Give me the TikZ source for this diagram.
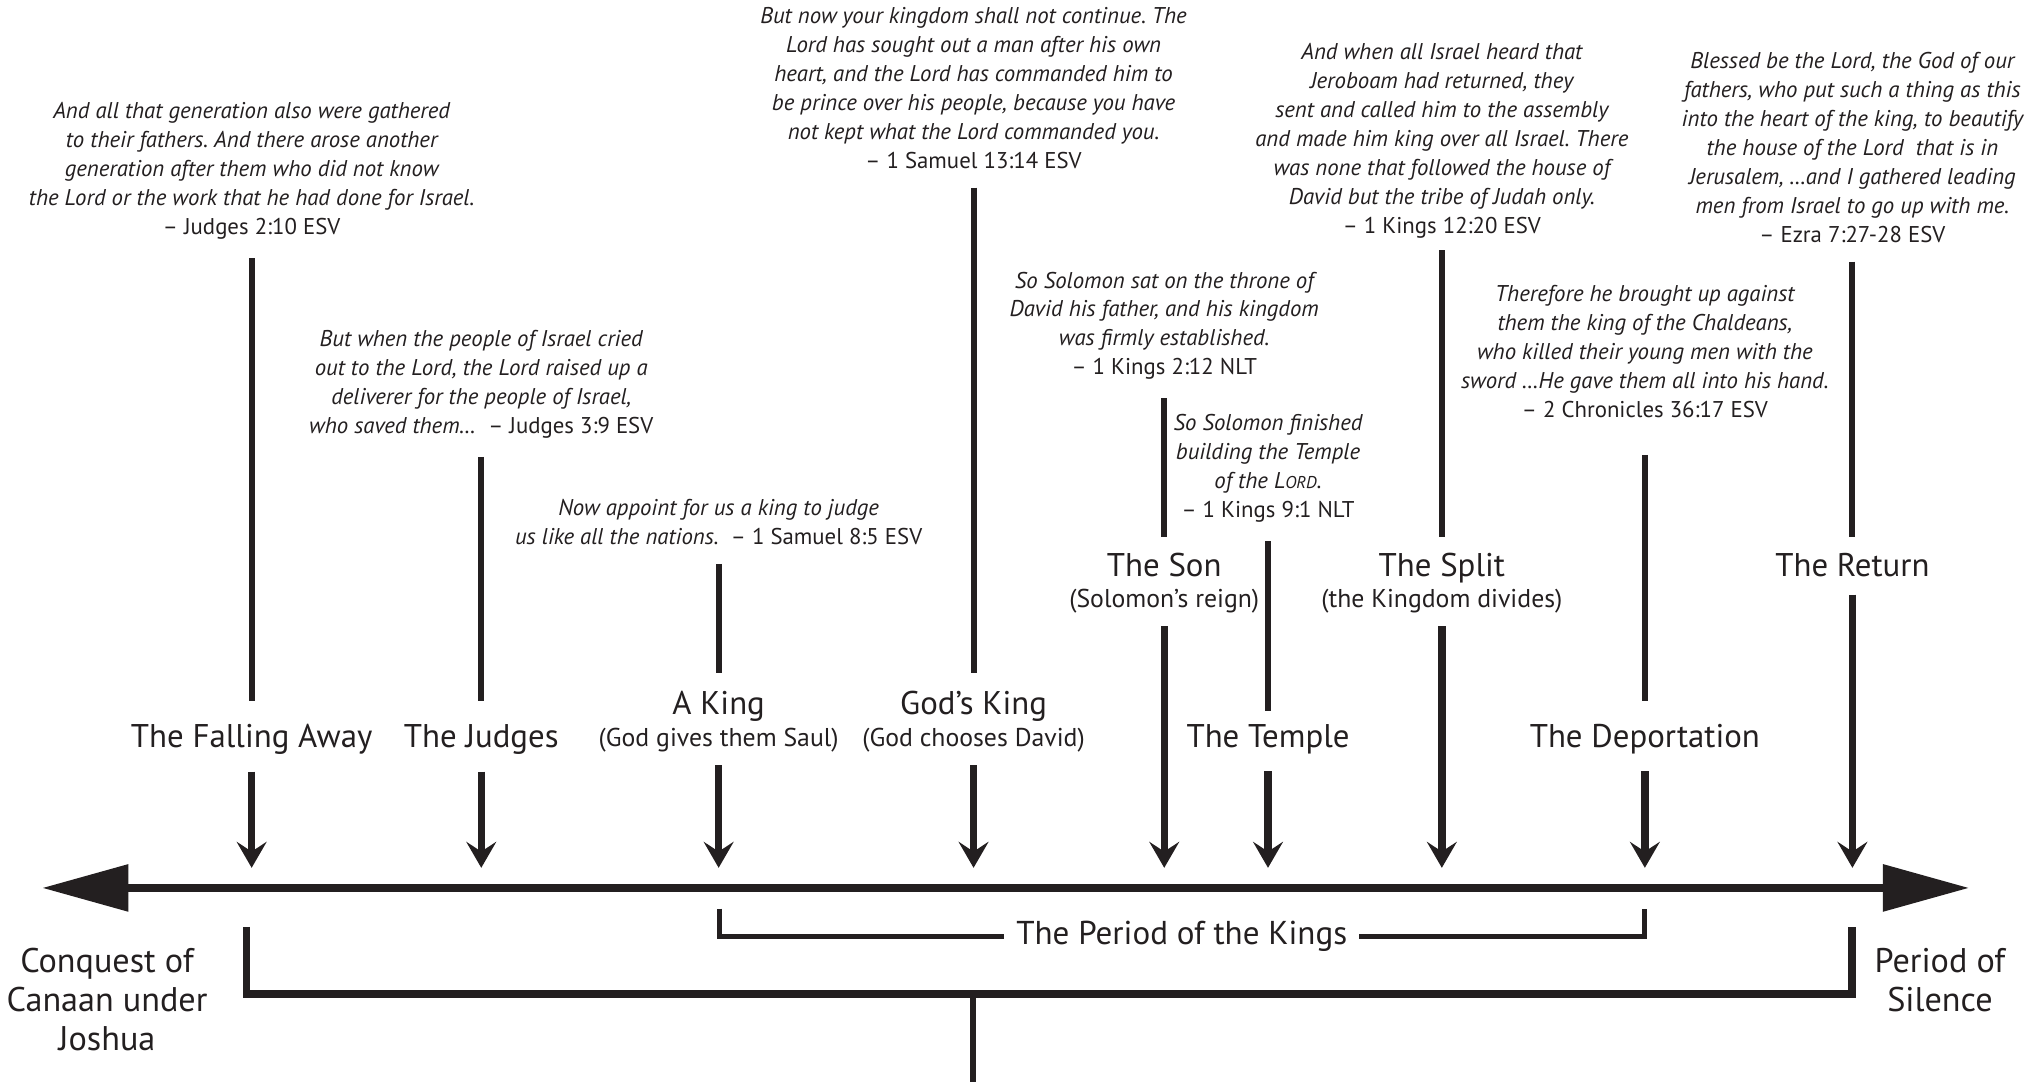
\documentclass[tikz,border=0pt]{standalone}
\usepackage{fontspec}
\setmainfont{PT Sans}
\usetikzlibrary{arrows.meta}
\definecolor{ink}{HTML}{231F20}
\frenchspacing

\tikzset{
  verse/.style={anchor=base, align=center, inner sep=2pt, text=ink,
    font=\fontsize{10}{12.7}\selectfont\itshape},
  event/.style={anchor=base, inner sep=2pt, text=ink,
    font=\fontsize{14.4}{16}\selectfont},
  subline/.style={anchor=base, inner sep=0pt, text=ink,
    font=\fontsize{11.3}{13}\selectfont},
  endlabel/.style={anchor=base, align=center, text=ink,
    font=\fontsize{15}{17.1}\selectfont},
  stem/.style={draw=ink, line width=2.6pt, shorten <=6pt, shorten >=5pt},
  drop/.style={draw=ink, line width=3.2pt, shorten <=5.5pt,
    -{Stealth[length=0.40cm,width=0.46cm,inset=0.15cm]}},
  bracketline/.style={draw=ink, line width=3.4pt},
}

\begin{document}
\begin{tikzpicture}
    \useasboundingbox (0,0) rectangle (31.36,16.68);

    % time line
    \coordinate (past) at (0.65,2.99);
    \coordinate (future) at (30.36,2.99);
    \coordinate (tip) at (0,3.30);
    \draw[ink,line width=3.5pt,{Triangle[length=1.33cm,width=0.70cm]}-{Triangle[length=1.33cm,width=0.70cm]}] (past) -- (future);

    % verses (placed by their last line)
    \node[verse] (fallQ) at (3.88,13.06) {And all that generation also were gathered\\
      to their fathers. And there arose another\\
      generation after them who did not know\\
      the Lord or the work that he had done for Israel.\\
      {\upshape – Judges 2:10 ESV}};
    \node[verse] (judgesQ) at (7.42,10.00) {But when the people of Israel cried\\
      out to the Lord, the Lord raised up a\\
      deliverer for the people of Israel,\\
      who saved them\ldots\ \ {\upshape – Judges 3:9 ESV}};
    \node[verse] (akingQ) at (11.08,8.28) {Now appoint for us a king to judge\\
      us like all the nations.\ \ {\upshape – 1 Samuel 8:5 ESV}};
    \node[verse] (godsQ) at (15.01,14.08) {But now your kingdom shall not continue. The\\
      Lord has sought out a man after his own\\
      heart, and the Lord has commanded him to\\
      be prince over his people, because you have\\
      not kept what the Lord commanded you.\\
      {\upshape – 1 Samuel 13:14 ESV}};
    \node[verse] (sonQ) at (17.95,10.90) {So Solomon sat on the throne of\\
      David his father, and his kingdom\\
      was firmly established.\\
      {\upshape – 1 Kings 2:12 NLT}};
    \node[verse] (templeQ) at (19.55,8.70) {So Solomon finished\\
      building the Temple\\
      of the L{\fontsize{7.5}{9}\selectfont ORD}.\\
      {\upshape – 1 Kings 9:1 NLT}};
    \node[verse] (splitQ) at (22.23,13.08) {And when all Israel heard that\\
      Jeroboam had returned, they\\
      sent and called him to the assembly\\
      and made him king over all Israel. There\\
      was none that followed the house of\\
      David but the tribe of Judah only.\\
      {\upshape – 1 Kings 12:20 ESV}};
    \node[verse] (deportQ) at (25.36,10.24) {Therefore he brought up against\\
      them the king of the Chaldeans,\\
      who killed their young men with the\\
      sword \ldots He gave them all into his hand.\\
      {\upshape – 2 Chronicles 36:17 ESV}};
    \node[verse] (returnQ) at (28.56,12.94) {Blessed be the Lord, the God of our\\
      fathers, who put such a thing as this\\
      into the heart of the king, to beautify\\
      the house of the Lord\ \ that is in\\
      Jerusalem, \ldots and I gathered leading\\
      men from Israel to go up with me.\\
      {\upshape – Ezra 7:27-28 ESV}};

    % events
    \node[event] (fallL) at (3.88,5.16) {The Falling Away};
    \node[event] (judgesL) at (7.42,5.16) {The Judges};
    \node[event] (akingL) at (11.08,5.67) {A King};
    \node[subline] (akingS) at (11.08,5.17) {(God gives them Saul)};
    \node[event] (godsL) at (15.01,5.67) {God’s King};
    \node[subline] (godsS) at (15.01,5.17) {(God chooses David)};
    \node[event] (sonL) at (17.95,7.79) {The Son};
    \node[subline] (sonS) at (17.95,7.31) {(Solomon’s reign)};
    \node[event] (templeL) at (19.55,5.16) {The Temple};
    \node[event] (splitL) at (22.23,7.79) {The Split};
    \node[subline] (splitS) at (22.23,7.31) {(the Kingdom divides)};
    \node[event] (deportL) at (25.36,5.16) {The Deportation};
    \node[event] (returnL) at (28.56,7.79) {The Return};

    % verse to event
    \draw[stem,shorten >=8pt] (fallQ) -- (fallL);
    \draw[stem,shorten >=8pt] (judgesQ) -- (judgesL);
    \draw[stem,shorten >=5.5pt] (akingQ) -- (akingL);
    \draw[stem,shorten >=5.5pt] (godsQ) -- (godsL);
    \draw[stem] (sonQ) -- (sonL);
    \draw[stem,shorten >=3.5pt] (templeQ) -- (templeL);
    \draw[stem,shorten <=3pt] (splitQ) -- (splitL);
    \draw[stem,shorten <=14pt,shorten >=8pt] (deportQ) -- (deportL);
    \draw[stem] (returnQ) -- (returnL);

    % event to time line
    \draw[drop] (fallL) -- (fallL |- tip);
    \draw[drop] (judgesL) -- (judgesL |- tip);
    \draw[drop] (akingS) -- (akingS |- tip);
    \draw[drop] (godsS) -- (godsS |- tip);
    \draw[drop] (sonS) -- (sonS |- tip);
    \draw[drop] (templeL) -- (templeL |- tip);
    \draw[drop] (splitS) -- (splitS |- tip);
    \draw[drop] (deportL) -- (deportL |- tip);
    \draw[drop] (returnL) -- (returnL |- tip);

    % period of the kings
    \coordinate (kingsL) at (11.09,2.67);
    \coordinate (kingsR) at (25.36,2.67);
    \node[endlabel,anchor=center,fill=white,inner xsep=5pt,font=\fontsize{14.5}{16}\selectfont] (kings) at (18.22,2.24) {The Period of the Kings};
    \draw[ink,line width=2.2pt] (kingsL) |- (kings);
    \draw[ink,line width=2.2pt] (kings) -| (kingsR);

    % whole period
    \coordinate (ageL) at (3.80,2.39);
    \coordinate (ageR) at (28.55,2.39);
    \coordinate (ageM) at (15.00,1.36);
    \coordinate (bottom) at (15.00,0);
    \draw[bracketline] (ageL) -- (ageL |- ageM) -- (ageM -| ageR) -- (ageR);
    \draw[ink,line width=2.6pt] (ageM) -- (bottom);

    \node[endlabel] (conquest) at (1.65,0.49) {Conquest of\\Canaan under\\Joshua};
    \node[endlabel] (silence) at (29.91,1.09) {Period of\\Silence};

\end{tikzpicture}
\end{document}
